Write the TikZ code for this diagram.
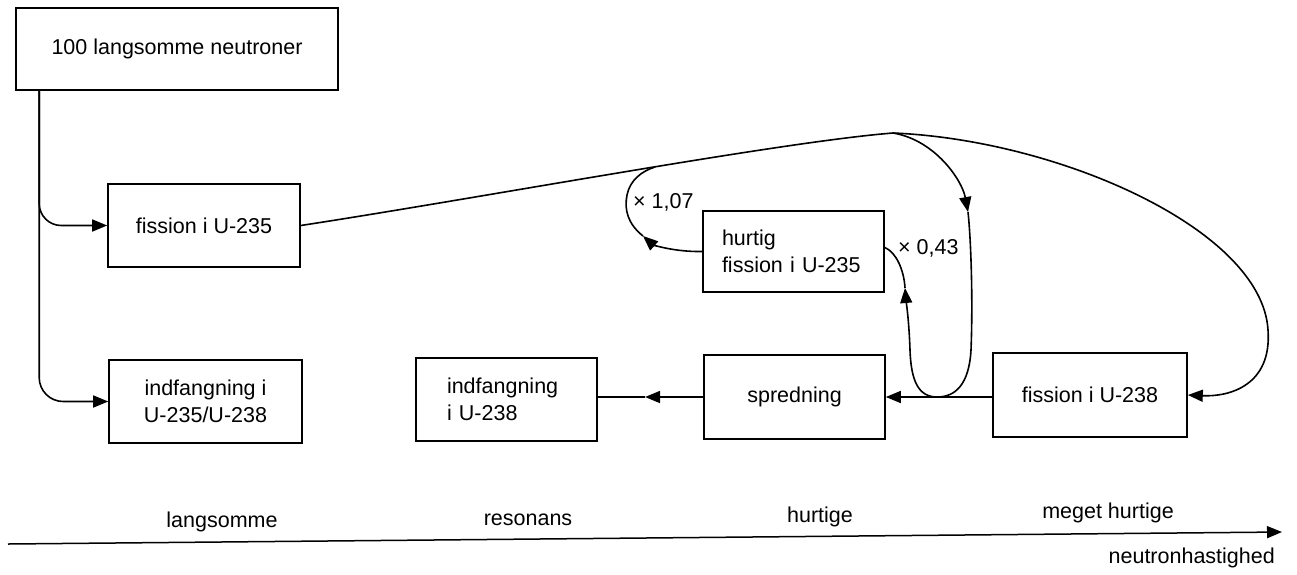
\documentclass[tikz,border=0pt]{standalone}
\usepackage{fontspec}
\setmainfont{Liberation Sans}
\usetikzlibrary{arrows.meta}
\begin{document}
\begin{tikzpicture}[x=1pt,y=-1pt,
  txt/.style={font=\fontsize{21.5}{27}\selectfont},
  box/.style={draw, line width=1.6pt, inner sep=0pt, align=center, txt},
  conn/.style={line width=1.6pt},
  tip/.style={-{Triangle[length=15pt,width=12pt]}},
  lbl/.style={txt, inner sep=0pt}]
\useasboundingbox (0,0) rectangle (1297,574);

% boxes
\node[box, minimum width=322pt, minimum height=82pt] (top) at (177,49) {\raisebox{3pt}{100 langsomme neutroner}};
\node[box, minimum width=192pt, minimum height=83pt] (f235) at (204,225.5) {fission i U-235};
\node[box, minimum width=193pt, minimum height=83pt] (ind1) at (205.5,401.5) {indfangning i\\U-235/U-238};
\node[box, align=left, text width=119pt, inner xsep=31pt, minimum height=83pt] (ind2) at (506.5,399.5) {indfangning\\i U-238};
\node[box, minimum width=181pt, minimum height=84pt] (spred) at (794.5,397) {spredning};
\node[box, align=left, text width=143pt, inner xsep=19pt, minimum height=81pt] (hurtig) at (793.5,251.5) {hurtig\\fission i U-235};
\node[box, minimum width=194pt, minimum height=84pt] (f238) at (1090,395) {fission i U-238};

% helper coordinates
\coordinate (v0) at ([xshift=24pt]top.south west);
\coordinate (j1) at (655,167);
\coordinate (j2) at (893,133);
\coordinate (a1) at (643,236);
\coordinate (a2) at (968,212);
\coordinate (a3) at (905,288);
\coordinate (a4) at (645,397);

% left branches
\draw[conn,tip,rounded corners=22pt] (v0) |- (f235.west);
\draw[conn,tip,rounded corners=24pt] (v0) |- (ind1.west);

% main curve
\draw[conn,tip] (f235.east) .. controls (480,198) and (780,142) .. (j2)
   .. controls (1060,140) and (1262,230) .. (1268,330)
   .. controls (1272,385) and (1230,397) .. (f238.east);

% x 1,07 branch
\draw[conn,tip] (hurtig.west) .. controls (672,252) and (652,244) .. (a1);
\draw[conn] (a1) .. controls (628,224) and (624,210) .. (627,195)
   .. controls (630,180) and (642,171) .. (j1);
\node[lbl, anchor=west] (l107) at (633,202) {× 1,07};

% x 0,43 loop
\draw[conn,tip] (j2) .. controls (935,140) and (962,180) .. (a2);
\draw[conn,tip] (a2) .. controls (971,240) and (973,300) .. (971,350)
   .. controls (969,385) and (955,397) .. (937,397)
   .. controls (918,397) and (911,380) .. (910,350)
   .. controls (909,320) and (906,300) .. (a3);
\draw[conn] (a3) .. controls (904,270) and (896,252) .. ([yshift=4pt]hurtig.east);
\node[lbl, anchor=west] (l043) at (898,248) {× 0,43};

% horizontal flow
\draw[conn,tip] (f238.west |- spred.east) -- (spred.east);
\draw[conn,tip] (spred.west) -- (a4);
\draw[conn] (a4) -- (ind2.east |- a4);

% axis
\coordinate (ax0) at (8,544);
\coordinate (ax1) at (1282,532);
\draw[line width=1.5pt,tip] (ax0) -- (ax1);
\node[lbl, anchor=base] (t1) at (222,527) {langsomme};
\node[lbl, anchor=base] (t2) at (528,525) {resonans};
\node[lbl, anchor=base] (t3) at (820,522) {hurtige};
\node[lbl, anchor=base] (t4) at (1108,518) {meget hurtige};
\node[lbl, anchor=base east] (t5) at (1275,563) {neutronhastighed};
\end{tikzpicture}
\end{document}
